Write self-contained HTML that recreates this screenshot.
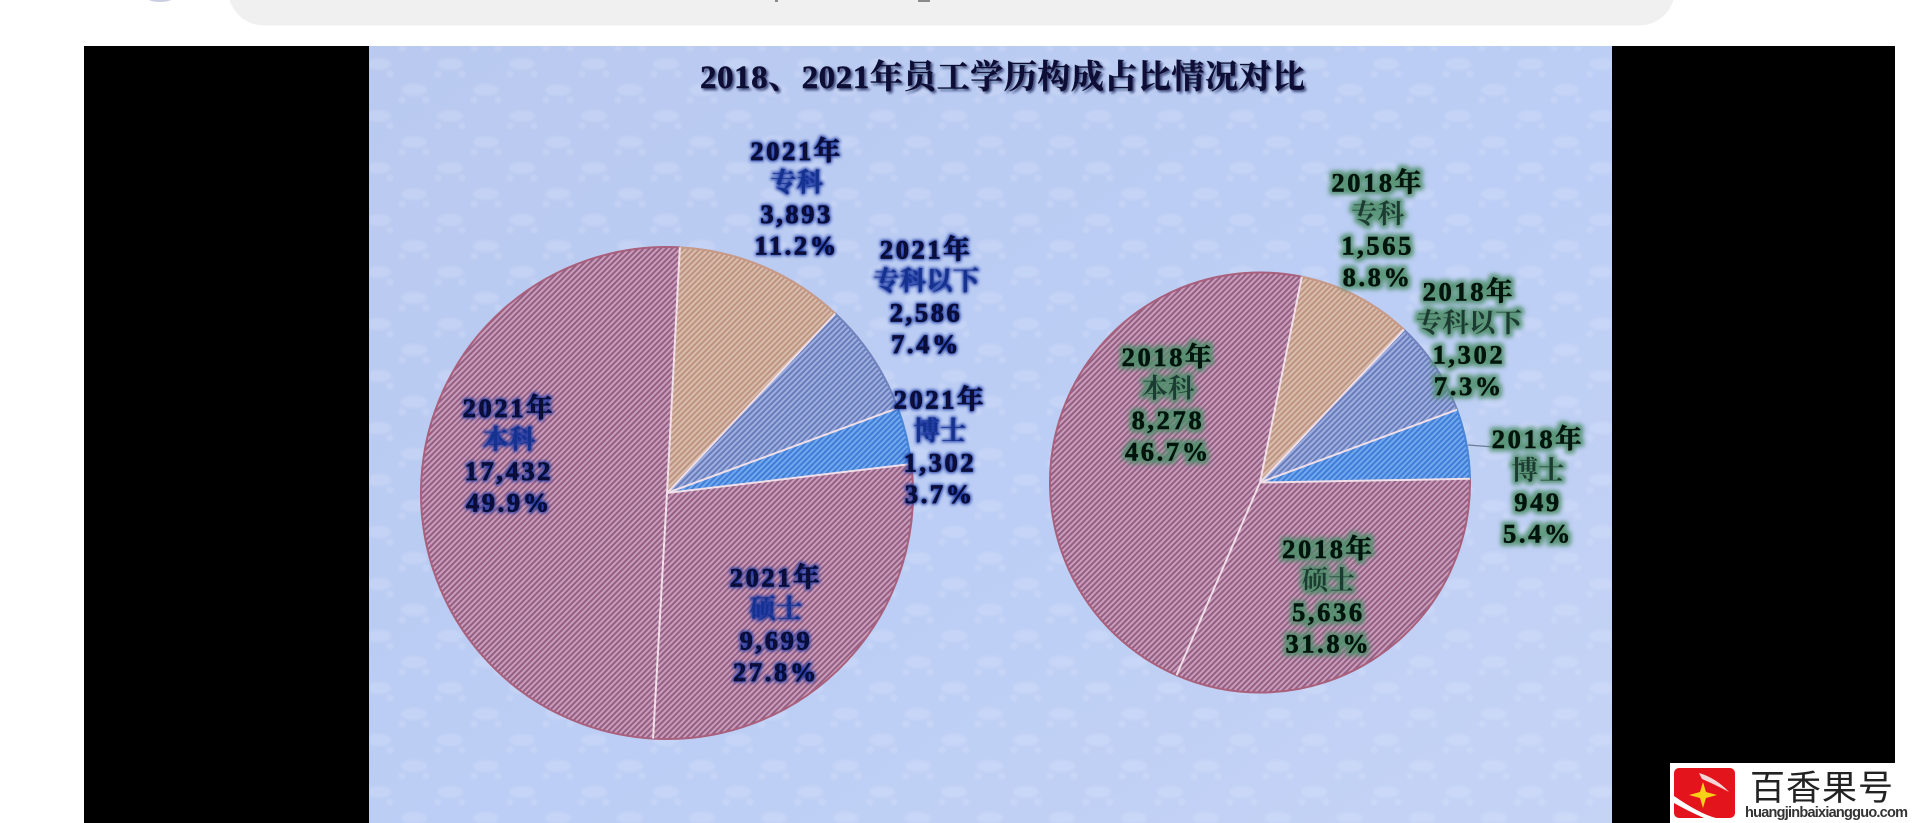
<!DOCTYPE html>
<html lang="zh">
<head>
<meta charset="utf-8">
<title>2018、2021年员工学历构成占比情况对比</title>
<style>
html,body{margin:0;padding:0;width:1920px;height:823px;overflow:hidden;background:#fff}
svg{display:block}
.serif{font-family:"Liberation Serif","Noto Serif CJK SC",serif;font-weight:700}
.lbl{font-family:"Liberation Serif","Noto Serif CJK SC",serif;font-weight:700;font-size:26.5px;text-anchor:middle}
</style>
</head>
<body>
<svg id="root" width="1920" height="823" viewBox="0 0 1920 823" xmlns="http://www.w3.org/2000/svg">
  <defs>
    <linearGradient id="panelGrad" x1="0" y1="0" x2="1" y2="1">
      <stop offset="0" stop-color="#b9c9ef"/>
      <stop offset="0.55" stop-color="#bccef5"/>
      <stop offset="1" stop-color="#c5d3f5"/>
    </linearGradient>
    <filter id="soften" x="0" y="0" width="100%" height="100%">
      <feGaussianBlur stdDeviation="1.2"/>
    </filter>
    <pattern id="damask" width="72" height="52" patternUnits="userSpaceOnUse">
      <g fill="#e8eefb" opacity="0.2">
        <ellipse cx="18" cy="12" rx="13" ry="6"/>
        <ellipse cx="54" cy="38" rx="13" ry="6"/>
        <circle cx="6" cy="22" r="3.5"/><circle cx="30" cy="22" r="3.5"/>
        <circle cx="42" cy="48" r="3.5"/><circle cx="66" cy="48" r="3.5"/>
      </g>
    </pattern>
    <pattern id="hatch-pink" width="4" height="4" patternUnits="userSpaceOnUse" patternTransform="rotate(-45)">
      <rect width="4" height="4" fill="#955f84"/><rect width="4" height="1.9" fill="#cba0bd"/>
    </pattern>
    <pattern id="hatch-tan" width="4" height="4" patternUnits="userSpaceOnUse" patternTransform="rotate(-45)">
      <rect width="4" height="4" fill="#bd9482"/><rect width="4" height="1.9" fill="#dbbfae"/>
    </pattern>
    <pattern id="hatch-slate" width="4" height="4" patternUnits="userSpaceOnUse" patternTransform="rotate(-45)">
      <rect width="4" height="4" fill="#6a7dbb"/><rect width="4" height="1.9" fill="#a0b2e2"/>
    </pattern>
    <pattern id="hatch-blue" width="4" height="4" patternUnits="userSpaceOnUse" patternTransform="rotate(-45)">
      <rect width="4" height="4" fill="#3f7dd6"/><rect width="4" height="1.9" fill="#74aaf0"/>
    </pattern>
    <filter id="glow-navy" x="-30%" y="-30%" width="160%" height="160%">
      <feMorphology in="SourceAlpha" operator="dilate" radius="1.2" result="d"/>
      <feGaussianBlur in="d" stdDeviation="1.7" result="b"/>
      <feFlood flood-color="#1c38a4" flood-opacity="0.95"/>
      <feComposite in2="b" operator="in" result="s"/>
      <feMerge><feMergeNode in="s"/><feMergeNode in="SourceGraphic"/></feMerge>
    </filter>
    <filter id="glow-green" x="-30%" y="-30%" width="160%" height="160%">
      <feMorphology in="SourceAlpha" operator="dilate" radius="3" result="d"/>
      <feGaussianBlur in="d" stdDeviation="2.4" result="b"/>
      <feFlood flood-color="#4f8f6c" flood-opacity="0.9"/>
      <feComposite in2="b" operator="in" result="s"/>
      <feMerge><feMergeNode in="s"/><feMergeNode in="SourceGraphic"/></feMerge>
    </filter>
    <filter id="title-shadow" x="-5%" y="-30%" width="110%" height="160%">
      <feDropShadow dx="2" dy="2" stdDeviation="1.2" flood-color="#101c50" flood-opacity="0.75"/>
    </filter>
  </defs>

  <rect x="0" y="0" width="1920" height="823" fill="#ffffff"/>
  <rect x="228" y="-50" width="1447" height="75.5" rx="36" fill="#f0f0f0"/>
  <ellipse cx="160" cy="-3" rx="14" ry="5" fill="#c9cde0"/>
  <rect x="775" y="0" width="3" height="2" fill="#8a8a8a"/>
  <rect x="918" y="0" width="12" height="2" fill="#8a8a8a"/>

  <rect x="84" y="46" width="1811" height="777" fill="#000000"/>
  <rect x="369" y="46" width="1243" height="777" fill="url(#panelGrad)"/>
  <rect x="369" y="46" width="1243" height="777" fill="url(#damask)" filter="url(#soften)"/>

  <text class="serif" x="700" y="88" font-size="33" fill="#0a1034" stroke="#0a1034" stroke-width="0.4" textLength="605" lengthAdjust="spacing" filter="url(#title-shadow)">2018、2021年员工学历构成占比情况对比</text>

  <g id="pie-2021"></g>
  <g id="pie-2018"></g>
  <g id="labels-2021" filter="url(#glow-navy)" transform="translate(0,1.5)"></g>
  <g id="labels-2018" filter="url(#glow-green)"></g>

  <g>
    <rect x="1670" y="763" width="250" height="60" fill="#ffffff"/>
    <rect x="1674" y="768" width="61" height="50" rx="5" fill="#e3141c"/>
    <path d="M1674 796 Q1700 814 1716 818 L1704 818 Q1686 810 1674 803Z" fill="#ffffff"/>
    <path d="M1699 773 Q1716 778 1729 792 Q1714 784 1702 779Z" fill="#f4d6d6"/>
    <path d="M1703 782 L1706 792 L1717 795 L1706 798 L1703 808 L1700 798 L1689 795 L1700 792Z" fill="#f7d117"/>
    <text x="1750" y="800" font-size="35" letter-spacing="1" fill="#222222" font-family="'Noto Sans CJK SC','WenQuanYi Zen Hei',sans-serif">百香果号</text>
    <text x="1745" y="817" font-size="14.5" font-weight="700" fill="#333333" font-family="'Liberation Sans',sans-serif" textLength="163">huangjinbaixiangguo.com</text>
  </g>
</svg>

<script>
const categories = ['专科', '专科以下', '博士', '硕士', '本科'];
const values2021 = [3893, 2586, 1302, 9699, 17432];
const values2018 = [1565, 1302, 949, 5636, 8278];
const percents2021 = ['11.2%', '7.4%', '3.7%', '27.8%', '49.9%'];
const percents2018 = ['8.8%', '7.3%', '5.4%', '31.8%', '46.7%'];

const SVGNS = 'http://www.w3.org/2000/svg';
const sliceStyles = [
  {fill: 'url(#hatch-tan)', edge: '#c79a88'},
  {fill: 'url(#hatch-slate)', edge: '#7284bd'},
  {fill: 'url(#hatch-blue)', edge: '#4a86d8'},
  {fill: 'url(#hatch-pink)', edge: '#a8607c'},
  {fill: 'url(#hatch-pink)', edge: '#a8607c'}
];
/* Label placement relative to each slice's mid-angle: radial factor and angular nudge (degrees) */
const layout2021 = {cx: 667, cy: 493, r: 246, start: 3.0,
  radial: [1.318, 1.328, 1.127, 0.687, 0.663], nudge: [0.5, -4.0, 3.3, 6.6, 11.1]};
const layout2018 = {cx: 1260, cy: 482.5, r: 210, start: 11.5,
  radial: [1.331, 1.21, 1.324, 0.627, 0.579], nudge: [-2.5, -1.2, 11.2, 2.5, 23.3]};

function polar(cx, cy, r, deg) {
  const a = (deg - 90) * Math.PI / 180;
  return [cx + r * Math.cos(a), cy + r * Math.sin(a)];
}
function make(tag, attrs) {
  const el = document.createElementNS(SVGNS, tag);
  for (const k in attrs) el.setAttribute(k, attrs[k]);
  return el;
}
function fmt(n) { return n.toLocaleString('en-US'); }

function drawPie(year, values, percents, layout, group, labelGroup, textColor, cjkColor) {
  const total = values.reduce(function (a, b) { return a + b; }, 0);
  let angle = layout.start;
  const seps = [];
  values.forEach(function (v, i) {
    const sweep = v / total * 360;
    const a0 = angle, a1 = angle + sweep;
    const p0 = polar(layout.cx, layout.cy, layout.r, a0);
    const p1 = polar(layout.cx, layout.cy, layout.r, a1);
    const large = sweep > 180 ? 1 : 0;
    const arc = 'M' + p0[0] + ' ' + p0[1] + ' A' + layout.r + ' ' + layout.r + ' 0 ' + large + ' 1 ' + p1[0] + ' ' + p1[1];

    const slice = make('path', {d: 'M' + layout.cx + ' ' + layout.cy + ' L' + p0[0] + ' ' + p0[1] + ' A' + layout.r + ' ' + layout.r + ' 0 ' + large + ' 1 ' + p1[0] + ' ' + p1[1] + 'Z', fill: sliceStyles[i].fill});
    
    
    group.appendChild(slice);

    const edge = make('path', {d: arc, fill: 'none', stroke: sliceStyles[i].edge, 'stroke-width': 2});
    
    
    group.appendChild(edge);

    seps.push([p0, i]);

    const mid = a0 + sweep / 2 + layout.nudge[i];
    const c = polar(layout.cx, layout.cy, layout.r * layout.radial[i], mid);
    const lines = [year + '年', categories[i], fmt(v), percents[i]];
    const label = make('g', {});
    
    
    lines.forEach(function (t, j) {
      const tx = make('text', {x: c[0], y: c[1] + (j - 1.5) * 31.5 + 10, 'class': 'lbl', fill: j === 1 ? cjkColor : textColor});
      if (j === 1) {
        tx.setAttribute('font-weight', '400');
      } else {
        tx.setAttribute('letter-spacing', '2.6');
        tx.setAttribute('stroke', textColor);
        tx.setAttribute('stroke-width', '0.7');
      }
      
      
      tx.textContent = t;
      label.appendChild(tx);
    });
    labelGroup.appendChild(label);
    angle = a1;
  });
  seps.forEach(function (s) {
    const line = make('line', {x1: layout.cx, y1: layout.cy, x2: s[0][0], y2: s[0][1], stroke: '#f0dfe8', 'stroke-width': 2});
    
    
    group.appendChild(line);
  });
}

drawPie('2021', values2021, percents2021, layout2021,
  document.getElementById('pie-2021'), document.getElementById('labels-2021'), '#070b38', '#16308f');
drawPie('2018', values2018, percents2018, layout2018,
  document.getElementById('pie-2018'), document.getElementById('labels-2018'), '#06120c', '#1d3a30');

const leader = make('line', {x1: 1468, y1: 445, x2: 1494, y2: 447, stroke: '#6b7a96', 'stroke-width': 1.2});


document.getElementById('pie-2018').appendChild(leader);
</script>
</body>
</html>
